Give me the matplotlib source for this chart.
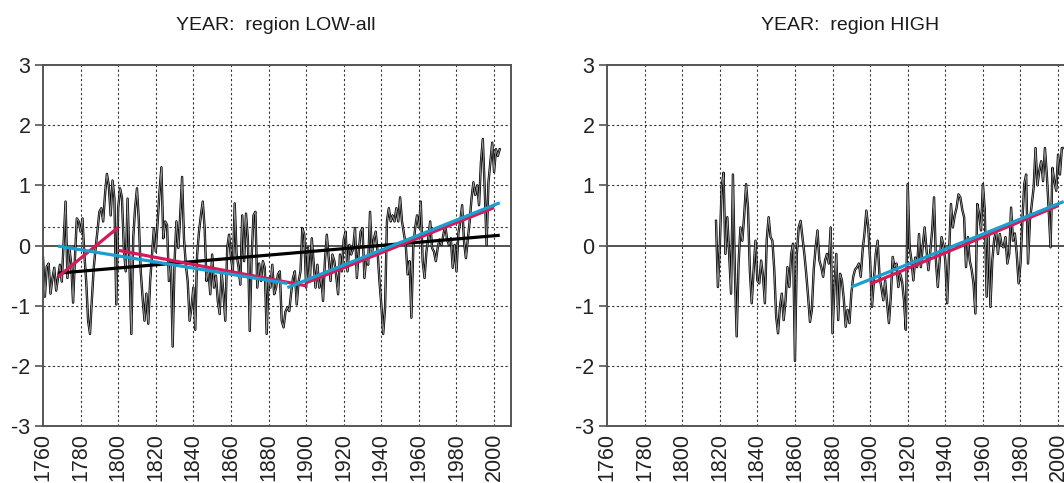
import matplotlib
matplotlib.use("Agg")
import matplotlib.pyplot as plt
import numpy as np

plt.rcParams["font.family"] = ["Liberation Sans", "DejaVu Sans"]

# annual anomalies, region LOW-all, 1760-2003
low_years = np.arange(1760, 2004)
low_values = [
    -0.20, -0.85, -0.35, -0.30, -0.80, -0.55, -0.37, -0.75, -0.54, -0.32,  # 1760s
    -0.60, 0.05, 0.73, -0.54, -0.04, -0.30, -0.95, -0.20, 0.45, 0.40,  # 1770s
    0.23, 0.45, -0.15, -0.60, -1.25, -1.47, -0.90, -0.37, -0.04, 0.25,  # 1780s
    0.56, 0.62, 0.40, 0.85, 1.19, 1.00, 0.50, 1.08, 0.78, -0.98,  # 1790s
    0.62, 0.95, 0.80, -0.04, -0.43, 0.78, -0.30, -1.47, 0.12, 0.62,  # 1800s
    0.95, 0.40, -0.43, -0.87, -1.25, -0.80, -1.30, -0.60, -0.15, 0.29,  # 1810s
    -0.10, 0.40, 0.90, 1.30, 0.12, 0.40, 0.34, -0.59, -0.26, -1.68,  # 1820s
    -0.26, 0.40, -0.04, 0.50, 1.14, 0.12, -0.32, -0.60, -1.25, -1.03,  # 1830s
    -0.70, -1.40, -0.15, 0.23, 0.50, 0.73, 0.29, -0.59, -0.40, -0.81,  # 1840s
    -0.15, -0.70, -0.50, -0.92, -1.14, -0.43, -0.80, -1.25, -0.04, 0.18,  # 1850s
    -0.20, -0.43, 0.70, -0.15, -0.35, -0.65, 0.50, -0.26, 0.53, 0.10,  # 1860s
    -1.42, -0.20, 0.50, 0.56, -0.70, -0.30, -0.59, -0.26, -0.37, -1.47,  # 1870s
    -0.54, -0.70, -0.32, -0.81, -0.70, -0.48, -0.43, -1.25, -1.36, -1.10,  # 1880s
    -1.03, -1.09, -0.80, -0.54, -0.43, -0.98, -0.60, -0.43, 0.29, 0.18,  # 1890s
    -0.70, -0.04, -0.59, 0.12, -0.30, -0.70, -0.32, -0.70, -0.50, -0.92,  # 1900s
    -0.26, 0.18, -0.20, -0.59, -0.15, -0.26, -0.50, -0.81, -0.15, -0.43,  # 1910s
    0.10, 0.23, -0.43, 0.01, -0.15, -0.05, 0.29, -0.54, -0.10, 0.23,  # 1920s
    0.29, -0.54, -0.20, -0.32, 0.56, -0.15, 0.10, 0.23, -0.10, -0.59,  # 1930s
    -0.98, -1.47, -1.03, 0.40, 0.62, 0.40, 0.50, 0.40, 0.62, 0.40,  # 1940s
    0.80, 0.40, 0.20, 0.01, -0.48, -0.26, -1.20, -0.04, 0.29, 0.50,  # 1950s
    0.30, 0.73, -0.26, -0.54, -0.10, 0.12, 0.40, -0.04, -0.10, -0.26,  # 1960s
    -0.04, 0.10, 0.01, 0.18, 0.34, 0.10, 0.01, 0.12, -0.37, 0.01,  # 1970s
    -0.43, 0.20, 0.40, 0.67, 0.07, -0.21, 0.10, 0.40, 0.78, 1.05,  # 1980s
    0.84, 1.00, 0.67, 1.38, 1.77, 0.95, 0.01, 1.05, 1.38, 1.71,  # 1990s
    1.22, 1.60, 1.49, 1.60,  # 2000s
]

# annual anomalies, region HIGH, 1818-2003
high_years = np.arange(1818, 2004)
high_values = [
    0.41, -0.69,  # 1818-1819
    -0.03, 0.96, 1.21, -0.14, 0.47, -0.14, -0.80, 1.18, -0.40, -1.51,  # 1820s
    -0.30, 0.30, 0.08, 0.50, 1.02, 0.63, -0.41, -0.96, -0.41, 0.08,  # 1830s
    -0.58, -0.63, -0.25, -0.50, -0.96, 0.10, 0.47, 0.14, 0.08, -0.41,  # 1840s
    -1.18, -1.46, -1.02, -0.80, -1.24, -0.91, -0.36, -0.69, -0.14, 0.03,  # 1850s
    -1.92, -0.14, 0.30, 0.41, 0.14, -0.14, -0.47, -0.85, -1.27, -1.07,  # 1860s
    -0.40, -0.03, 0.25, -0.25, -0.36, -0.52, -0.25, -0.14, -0.30, 0.30,  # 1870s
    -1.46, -0.69, -0.14, -1.24, -0.47, -0.58, -0.90, -1.35, -1.07, -1.29,  # 1880s
    -0.80, -0.52, -0.40, -0.36, -0.30, -0.52, -0.08, 0.20, 0.58, 0.30,  # 1890s
    -0.25, -1.02, -0.58, -0.14, 0.08, -0.52, -0.70, -0.91, -0.58, -0.95,  # 1900s
    -1.29, -0.85, -0.19, -0.36, -0.30, -0.69, -0.47, -0.60, -0.91, -1.40,  # 1910s
    1.02, -0.03, -0.25, -0.58, -0.20, -0.36, 0.19, -0.36, 0.00, 0.30,  # 1920s
    -0.08, -0.41, -0.10, 0.25, 0.80, -0.25, -0.69, -0.25, 0.14, 0.00,  # 1930s
    -0.25, -0.96, -0.14, 0.69, 0.30, 0.50, 0.63, 0.85, 0.80, 0.60,  # 1940s
    0.47, -0.36, 0.14, -0.25, -0.40, -0.63, -1.13, 0.69, 0.52, 0.25,  # 1950s
    1.02, 0.58, -0.85, 0.19, -1.02, -0.25, 0.10, 0.25, -0.14, 0.19,  # 1960s
    0.00, -0.03, 0.14, -0.30, -0.14, 0.63, 0.08, 0.20, -0.14, -0.63,  # 1970s
    -0.30, 0.41, 1.02, 1.18, -0.30, 0.41, 0.69, 0.96, 1.62, 1.00,  # 1980s
    1.24, 1.40, 1.07, 1.62, 1.18, 0.60, -0.03, 1.29, 1.07, 0.91,  # 1990s
    1.51, 1.18, 1.62, 1.62,  # 2000s
]

# fitted trend segments: (start year, end year, start value, end value)
low_black = [(1768, 2003, -0.46, 0.17)]
low_red = [(1768, 1800, -0.52, 0.30), (1800, 1900, -0.08, -0.67), (1900, 2000, -0.62, 0.63)]
low_cyan = [(1768, 1890, -0.01, -0.63), (1890, 2003, -0.70, 0.71)]
high_red = [(1900, 2000, -0.64, 0.66)]
high_cyan = [(1890, 2003, -0.69, 0.73)]

RED = "#d6195a"
CYAN = "#1a9fd0"
GRID = "#333333"
FRAME = "#555555"


def style_axes(ax):
    ax.set_xlim(1760, 2009)
    ax.set_ylim(-3, 3)
    ax.set_xticks(np.arange(1760, 2001, 20))
    ax.set_yticks([-3, -2, -1, 0, 1, 2, 3])
    ax.set_yticklabels(["-3", "-2", "-1", "0", "1", "2", "3"])
    ax.tick_params(axis="x", labelrotation=90, length=0, pad=5, labelsize=15.5, labelcolor="#222222")
    ax.tick_params(axis="y", length=6, width=1.2, color=FRAME, pad=3, labelsize=15.5, labelcolor="#222222")
    for sp in ax.spines.values():
        sp.set_color(FRAME)
        sp.set_linewidth(1.4)
    for x in np.arange(1780, 2001, 20):
        ax.axvline(x, color=GRID, lw=0.8, ls=(0, (2.0, 2.2)), zorder=1)
    for y in [-2, -1, 1, 2]:
        ax.axhline(y, color=GRID, lw=0.8, ls=(0, (2.0, 2.2)), zorder=1)
    ax.axhline(0, color="#444444", lw=1.3, zorder=1.5)


def draw_series(ax, years, values):
    # black outline with a grey core, like the original plotter output
    ax.plot(years, values, color="black", lw=1.7, zorder=2)
    ax.plot(years, values, color="#9a9a9a", lw=0.6, zorder=2.1)


def draw_trends(ax, segments, color):
    for x0, x1, y0, y1 in segments:
        ax.plot([x0, x1], [y0, y1], color=color, lw=2.3, solid_capstyle="butt", zorder=3)


fig = plt.figure(figsize=(10.64, 4.83), dpi=100)
ax1 = fig.add_axes([43 / 1064, 57 / 483, 468 / 1064, 361 / 483])
ax2 = fig.add_axes([607 / 1064, 57 / 483, 468 / 1064, 361 / 483])

style_axes(ax1)
ax1.axhline(0.3, color=GRID, lw=0.8, ls=(0, (2.0, 2.2)), zorder=1)
draw_series(ax1, low_years, low_values)
draw_trends(ax1, low_black, "black")
draw_trends(ax1, low_red, RED)
draw_trends(ax1, low_cyan, CYAN)

style_axes(ax2)
draw_series(ax2, high_years, high_values)
draw_trends(ax2, high_red, RED)
draw_trends(ax2, high_cyan, CYAN)

fig.text(276 / 1064, 1 - 25 / 483, "YEAR:  region LOW-all", ha="center", va="center",
         fontsize=14, color="#1a1a1a")
fig.text(850 / 1064, 1 - 25 / 483, "YEAR:  region HIGH", ha="center", va="center",
         fontsize=14, color="#1a1a1a")

fig.savefig("out.png", dpi=100)
